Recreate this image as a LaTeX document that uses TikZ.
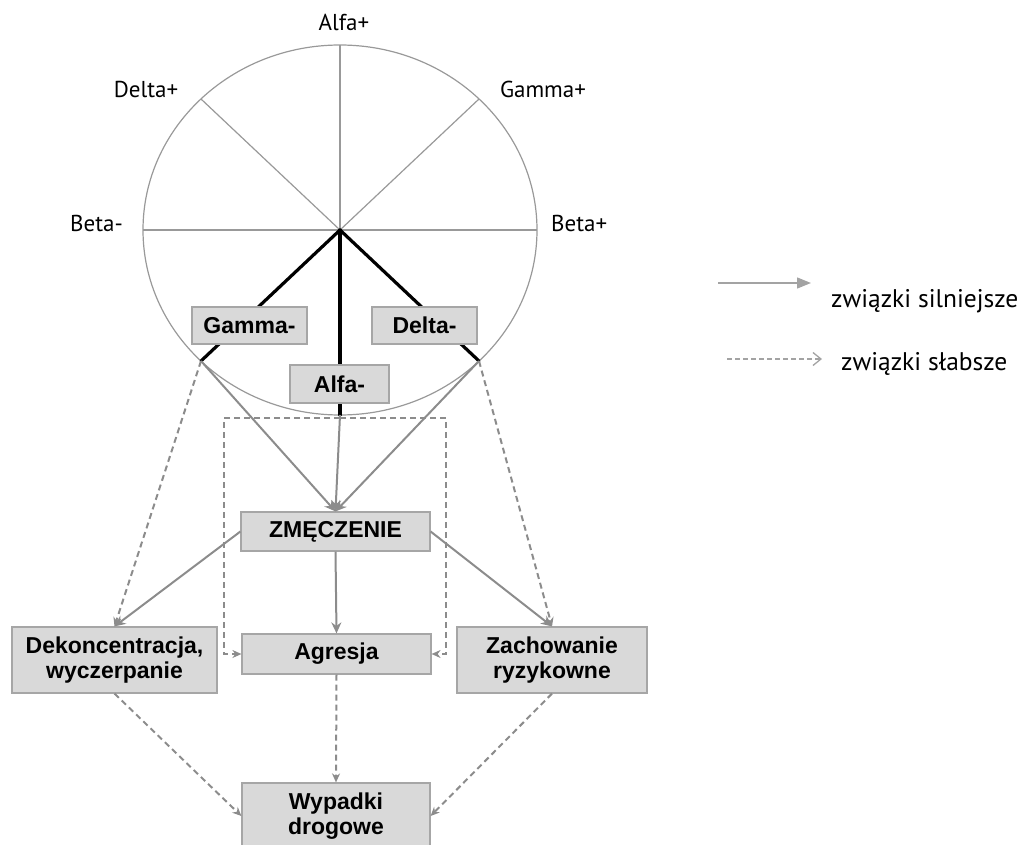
\documentclass[tikz,border=0pt]{standalone}
\usepackage{fontspec}
\setmainfont{Liberation Sans}
\newfontfamily\labfont{PT Sans}
\usetikzlibrary{arrows.meta}
\definecolor{boxfill}{HTML}{D9D9D9}
\definecolor{boxline}{HTML}{A6A6A6}
\definecolor{arrowgray}{HTML}{8C8C8C}
\definecolor{circgray}{HTML}{999999}
\begin{document}
\begin{tikzpicture}[x=1pt,y=-1pt,
  box/.style={draw=boxline, fill=boxfill, line width=1.2pt, inner sep=0pt, align=center,
    font=\fontsize{23}{25.5}\selectfont\bfseries},
  lbl/.style={font=\labfont\fontsize{23}{27}\selectfont, inner sep=0pt},
  leg/.style={font=\labfont\fontsize{25.5}{30}\selectfont, inner sep=0pt},
  strong/.style={draw=arrowgray, line width=2pt, -{Stealth[length=11pt,width=10pt]}},
  weak/.style={draw=arrowgray, line width=2pt, dash pattern=on 6pt off 4pt, -{Stealth[length=9pt,width=8pt]}},
  spoke/.style={draw=circgray, line width=1.2pt},
  blk/.style={draw=black, line width=3.2pt, line cap=round}
]
\useasboundingbox (0,0) rectangle (1026,845);

% circle and spokes
\coordinate (c) at (340,230);
\coordinate (cl) at (143,230);
\coordinate (cr) at (537,230);
\coordinate (ct) at (340,45);
\coordinate (cdp) at (201,99);
\coordinate (cgp) at (479,99);
\coordinate (gE) at (201,361);
\coordinate (dE) at (479,361);
\coordinate (aE) at (340,415);
\draw[spoke] (c) ellipse [x radius=197, y radius=185];
\draw[spoke] (cl) -- (cr);
\draw[spoke] (c) -- (ct);
\draw[spoke] (c) -- (cdp);
\draw[spoke] (c) -- (cgp);

% labels around circle
\node[lbl, anchor=base] (alp) at (344,31) {Alfa+};
\node[lbl, anchor=base] (dlp) at (146,98) {Delta+};
\node[lbl, anchor=base] (gmp) at (543,98) {Gamma+};
\node[lbl, anchor=base east] (btm) at (123,232) {Beta-};
\node[lbl, anchor=base west] (btp) at (551,232) {Beta+};

% thick lines
\draw[blk] (c) -- (gE);
\draw[blk] (c) -- (aE);
\draw[blk] (c) -- (dE);

% boxes
\node[box, minimum width=115pt, minimum height=37pt] (gm) at (249.5,325.5) {Gamma-};
\node[box, minimum width=105pt, minimum height=37pt] (dm) at (424.5,325.5) {Delta-};
\node[box, minimum width=99pt, minimum height=38pt] (am) at (339.5,384) {Alfa-};
\node[box, minimum width=189pt, minimum height=39pt] (zm) at (335.5,531.5) {ZMĘCZENIE};
\node[box, minimum width=189pt, minimum height=40pt] (ag) at (336.5,654) {Agresja};
\node[box, minimum width=205pt, minimum height=66pt] (dk) at (114.5,660) {Dekoncentracja,\\wyczerpanie};
\node[box, minimum width=190pt, minimum height=66pt] (zc) at (552,660) {Zachowanie\\ryzykowne};
\node[box, minimum width=188pt, minimum height=66pt] (wy) at (336,816) {Wypadki\\drogowe};

% strong links
\draw[strong] (gE) -- (zm.north);
\draw[strong] (aE) -- (zm.north);
\draw[strong] (dE) -- (zm.north);
\draw[strong] (zm.west) -- (dk.north);
\draw[strong] (zm.east) -- (zc.north);
\draw[strong] (zm.south) -- (ag.north);

% weak links
\coordinate (rt) at (340,418);
\coordinate (lt) at (224,418);
\coordinate (lb) at (224,654);
\coordinate (rtr) at (446,418);
\coordinate (rb) at (446,654);
\draw[weak] (rt) -- (lt) -- (lb) -- (ag.west);
\draw[weak] (rt) -- (rtr) -- (rb) -- (ag.east);
\draw[weak] (gE) -- (dk.north);
\draw[weak] (dE) -- (zc.north);
\draw[weak] (ag.south) -- (wy.north);
\draw[weak] (dk.south) -- (wy.west);
\draw[weak] (zc.south) -- (wy.east);

% legend
\coordinate (l1) at (718,283);
\coordinate (l2) at (811,283);
\coordinate (l3) at (727,359);
\coordinate (l4) at (822,359);
\draw[draw=arrowgray!80, line width=1.4pt, -{Triangle[length=14pt,width=11pt]}] (l1) -- (l2);
\draw[draw=arrowgray!80, line width=1.4pt, dash pattern=on 5pt off 3pt, -{Straight Barb[length=8pt,width=13pt,line width=1.3pt]}] (l3) -- (l4);
\node[leg, anchor=base west] (ls) at (831,307) {związki silniejsze};
\node[leg, anchor=base west] (lw) at (841,370) {związki słabsze};
\end{tikzpicture}
\end{document}
